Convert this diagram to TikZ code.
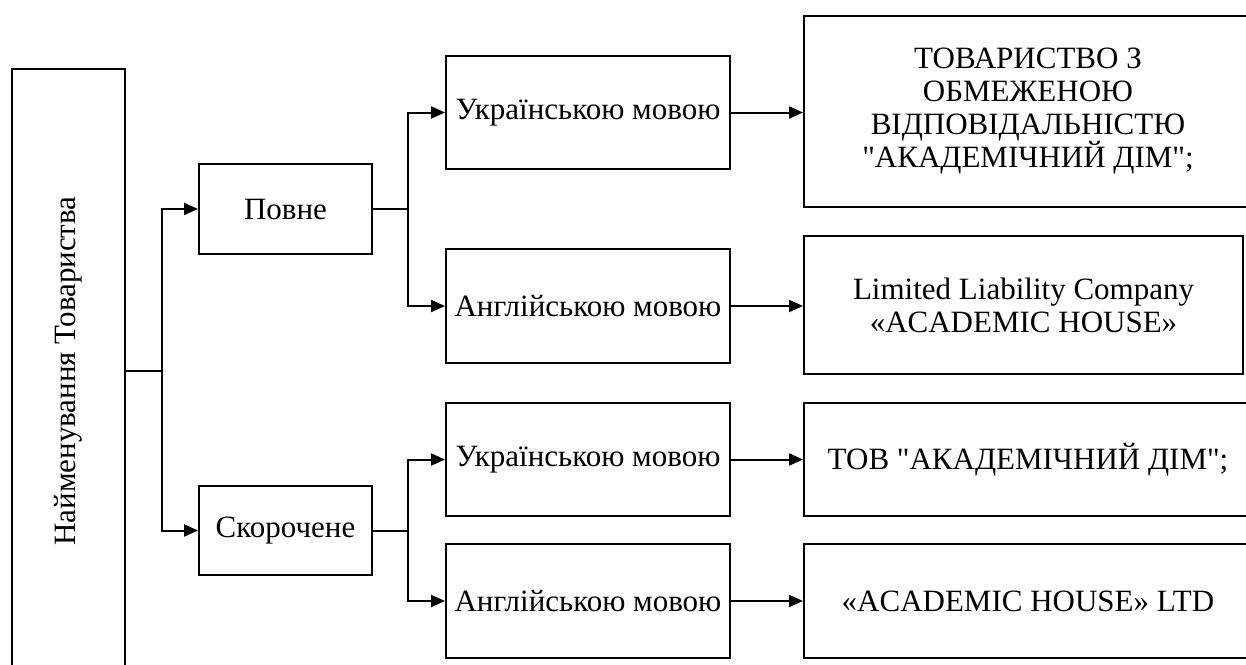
\documentclass[tikz,border=0pt]{standalone}
\usepackage{fontspec}
\setmainfont{Liberation Serif}[Ligatures=TeXOff]
\usetikzlibrary{arrows.meta}
\begin{document}
\begin{tikzpicture}[x=1pt,y=-1pt,
  box/.style={draw, line width=2pt, inner sep=0pt, align=center,
    font=\fontsize{31}{33}\selectfont},
  arr/.style={line width=2pt, -{Triangle[length=14pt,width=12pt]}},
  ln/.style={line width=2pt}]
\useasboundingbox (0,0) rectangle (1246,664);
\clip (0,0) rectangle (1246,664);
% root
\node[box, rotate=90, minimum width=604, minimum height=113] (root) at (68.5,371) {Найменування Товариства};
% column 2
\node[box, minimum width=173, minimum height=90] (pov) at (285.5,209) {Повне};
\node[box, minimum width=173, minimum height=89] (sk) at (285.5,530.5) {Скорочене};
% column 3
\node[box, minimum width=284, minimum height=113] (u1) at (588,112.5) {Українською мовою};
\node[box, minimum width=284, minimum height=114] (a1) at (588,306) {Англійською мовою};
\node[box, minimum width=284, minimum height=113] (u2) at (588,459.5) {Українською мовою};
\node[box, minimum width=284, minimum height=114] (a2) at (588,601) {Англійською мовою};
% column 4
\node[box, minimum width=448, minimum height=191] (r1) at (1028,111.5) {ТОВАРИСТВО З\\ОБМЕЖЕНОЮ\\ВІДПОВІДАЛЬНІСТЮ\\"АКАДЕМІЧНИЙ ДІМ";};
\node[box, minimum width=439, minimum height=138] (r2) at (1023.5,305) {Limited Liability Company\\«ACADEMIC HOUSE»};
\node[box, minimum width=448, minimum height=113] (r3) at (1028,459.5) {ТОВ "АКАДЕМІЧНИЙ ДІМ";};
\node[box, minimum width=448, minimum height=114] (r4) at (1028,601) {«ACADEMIC HOUSE» LTD};
% junctions
\coordinate (j0) at (162,371);
\coordinate (j1) at (408,209);
\coordinate (j2) at (408,530.5);
% connectors
\draw[ln] (root.south) -- (j0);
\draw[arr] (j0) |- (pov.west);
\draw[arr] (j0) |- (sk.west);
\draw[ln] (pov.east) -- (j1);
\draw[arr] (j1) |- (u1.west);
\draw[arr] (j1) |- (a1.west);
\draw[ln] (sk.east) -- (j2);
\draw[arr] (j2) |- (u2.west);
\draw[arr] (j2) |- (a2.west);
\draw[arr] (u1.east) -- (r1.west |- u1.east);
\draw[arr] (a1.east) -- (r2.west |- a1.east);
\draw[arr] (u2.east) -- (r3.west |- u2.east);
\draw[arr] (a2.east) -- (r4.west |- a2.east);
\end{tikzpicture}
\end{document}
